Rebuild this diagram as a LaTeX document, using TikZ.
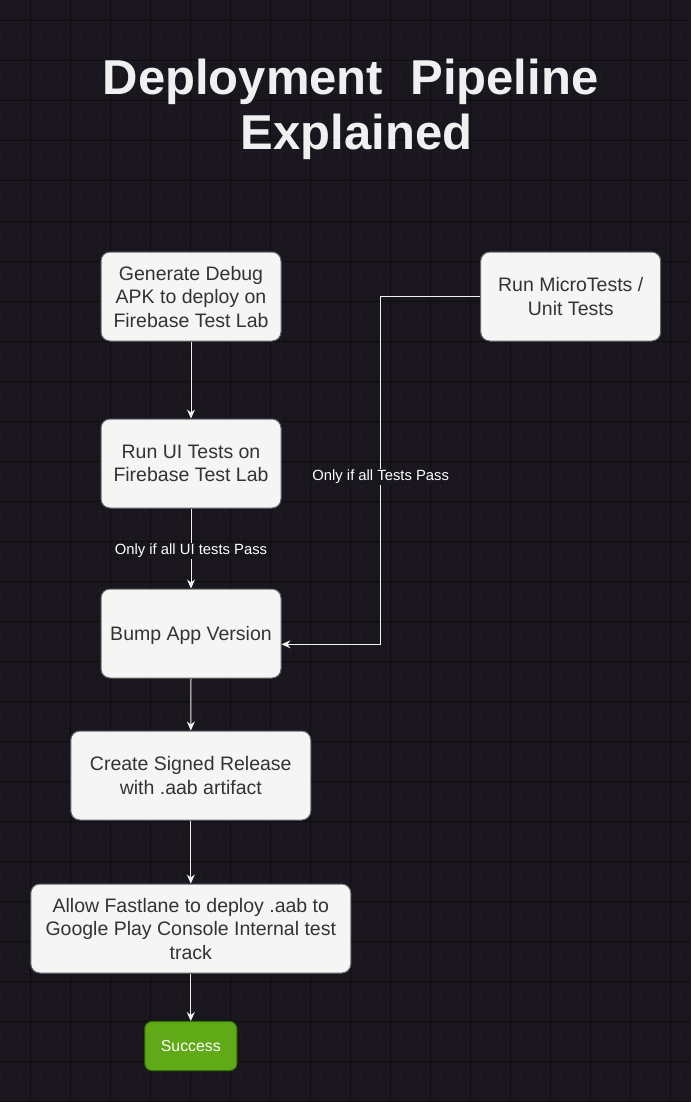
\documentclass[tikz,border=0pt]{standalone}
\usepackage{fontspec}
\setmainfont{Liberation Sans}
\usetikzlibrary{arrows.meta}
\definecolor{bgc}{HTML}{19161E}
\definecolor{minorc}{HTML}{1E1A24}
\definecolor{majorc}{HTML}{0E0C11}
\definecolor{boxfill}{HTML}{F5F5F5}
\definecolor{boxline}{HTML}{666666}
\definecolor{boxtext}{HTML}{333333}
\definecolor{okfill}{HTML}{60A917}
\definecolor{okline}{HTML}{2D7600}
\definecolor{titlec}{HTML}{F0F0F0}
\definecolor{linec}{HTML}{F2F2F2}
\begin{document}
\begin{tikzpicture}[x=1pt,y=-1pt,
  stepbox/.style={draw=boxline, fill=boxfill, rounded corners=9pt, line width=1pt,
    text=boxtext, align=center, inner sep=0pt, minimum width=180pt, minimum height=89pt,
    text depth=0pt, font=\fontsize{19.5}{23.5}\selectfont},
  okbox/.style={draw=okline, fill=okfill, rounded corners=7pt, line width=1pt,
    text=white, inner sep=0pt, minimum width=92pt, minimum height=49pt,
    text depth=0pt, font=\fontsize{15.8}{18}\selectfont},
  flow/.style={draw=linec, line width=1pt, -{Stealth[length=9pt,width=8pt,inset=3pt]}},
  lbl/.style={fill=bgc, text=white, inner sep=1.5pt, font=\fontsize{14.8}{17}\selectfont},
  titletext/.style={text=titlec, anchor=base, inner sep=0pt, font=\fontsize{49}{56}\selectfont\bfseries}]
\useasboundingbox (0,0) rectangle (691,1102);
\fill[bgc] (0,0) rectangle (691,1102);
% minor grid
\foreach \i in {0,...,69} \draw[minorc, line width=0.8pt] (0.7+10*\i,0) -- (0.7+10*\i,1102);
\foreach \i in {0,...,110} \draw[minorc, line width=0.8pt] (0,1+10*\i) -- (691,1+10*\i);
% major grid
\foreach \i in {0,...,17} \draw[majorc, line width=1pt] (30.7+40*\i,0) -- (30.7+40*\i,1102);
\foreach \i in {0,...,27} \draw[majorc, line width=1pt] (0,21+40*\i) -- (691,21+40*\i);

% title
\node[titletext] (t1) at (350.5,94.3) {Deployment\ \ Pipeline};
\node[titletext] (t2) at (356.5,150) {Explained};

% boxes
\node[stepbox] (gen) at (191,296.5) {Generate Debug\\APK to deploy on\\Firebase Test Lab};
\node[stepbox] (ui) at (191,463.5) {Run UI Tests on\\Firebase Test Lab};
\node[stepbox] (bump) at (191,633.5) {Bump App Version};
\node[stepbox, minimum width=240pt] (rel) at (190.8,775.5) {Create Signed Release\\with .aab artifact};
\node[stepbox, minimum width=320pt] (fast) at (190.8,928.5) {Allow Fastlane to deploy .aab to\\Google Play Console Internal test\\track};
\node[okbox] (ok) at (190.8,1046) {Success};
\node[stepbox] (micro) at (570.7,296.5) {Run MicroTests /\\Unit Tests};

% connectors
\draw[flow] (gen.south) -- (ui.north);
\draw[flow] (ui.south) -- (bump.north);
\node[lbl] (l1) at (191,551) {Only if all UI tests Pass};
\draw[flow] (bump.south) -- (rel.north);
\draw[flow] (rel.south) -- (fast.north);
\draw[flow] (fast.south) -- (ok.north);

\coordinate (b1) at (380.7,296.5);
\coordinate (b2) at (380.7,644.3);
\draw[flow] (micro.west) -- (b1) -- (b2) -- (bump.east |- b2);
\node[lbl] (l2) at (380.7,477) {Only if all Tests Pass};
\end{tikzpicture}
\end{document}
